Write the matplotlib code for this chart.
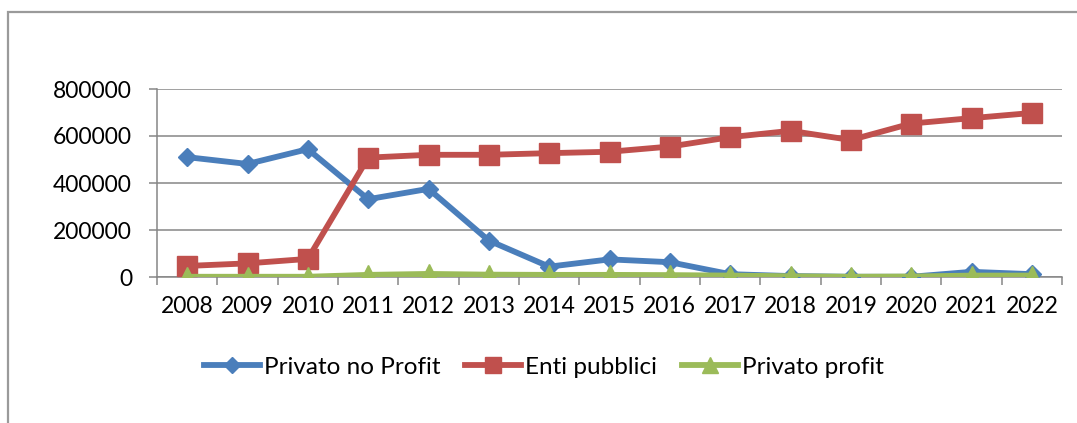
import matplotlib
matplotlib.use('Agg')
import matplotlib.pyplot as plt
import matplotlib.patches as patches
from matplotlib.ticker import FixedLocator, NullFormatter, FuncFormatter

# data
anni = ['2008', '2009', '2010', '2011', '2012', '2013', '2014', '2015',
        '2016', '2017', '2018', '2019', '2020', '2021', '2022']
privato_no_profit = [510000, 481000, 544000, 331000, 375000, 155000, 44000, 75000,
                     63000, 12000, 4000, 1000, 1000, 22000, 12000]
enti_pubblici = [47000, 58000, 77000, 508000, 520000, 520000, 527000, 533000,
                 555000, 595000, 622000, 583000, 653000, 676000, 698000]
privato_profit = [1000, 1000, 1000, 9000, 13000, 10000, 9000, 9000,
                  8000, 6000, 3000, 1000, 2000, 6000, 6000]
y_ticks = [0, 200000, 400000, 600000, 800000]

plt.rcParams['font.family'] = ['Lato', 'DejaVu Sans']
fs = 16.5
grigio = '#868686'

fig = plt.figure(figsize=(10.77, 4.23), dpi=100)
ax = fig.add_axes([157/1077, 1 - 277/423, (1062-157)/1077, (277-89)/423])

x = list(range(len(anni)))
ax.plot(x, privato_no_profit, color='#4A7EBB', lw=4.2, marker='D', ms=9.5,
        label='Privato no Profit', zorder=3)
ax.plot(x, enti_pubblici, color='#C0504D', lw=4.2, marker='s', ms=14,
        label='Enti pubblici', zorder=4)
ax.plot(x, privato_profit, color='#9BBB59', lw=4.2, marker='^', ms=14,
        label='Privato profit', zorder=5)

ax.set_xlim(-0.5, len(anni) - 0.5)
ax.set_ylim(0, 800000)
ax.set_yticks(y_ticks)
ax.yaxis.set_major_formatter(FuncFormatter(lambda v, p: '%d' % v))
ax.grid(axis='y', color=grigio, lw=1.1)
ax.set_axisbelow(True)

# tick marks between categories, labels centred
ax.xaxis.set_major_locator(FixedLocator([i - 0.5 for i in range(len(anni) + 1)]))
ax.xaxis.set_major_formatter(NullFormatter())
ax.xaxis.set_minor_locator(FixedLocator(x))
ax.set_xticklabels(anni, minor=True)
ax.tick_params(axis='x', which='major', length=6, width=1.1, color=grigio)
ax.tick_params(axis='x', which='minor', length=0, pad=14, labelsize=fs)
ax.tick_params(axis='y', length=6, width=1.1, color=grigio, pad=12, labelsize=fs)

for s in ['top', 'right']:
    ax.spines[s].set_visible(False)
for s in ['left', 'bottom']:
    ax.spines[s].set_color(grigio)
    ax.spines[s].set_linewidth(1.1)

leg = fig.legend(loc='center', bbox_to_anchor=(544/1077, 1 - 367/423), ncol=3,
                 frameon=False, fontsize=17.5, handlelength=2.3, handletextpad=0.17,
                 columnspacing=1.0, borderaxespad=0, markerscale=0.85)

# chart area border
fig.patches.append(patches.Rectangle((8/1077, -0.2), 1.5, 1.2 - 12/423,
                                     transform=fig.transFigure, fill=False,
                                     edgecolor='#9a9a9a', lw=1.6))

fig.savefig('out.png', dpi=100)
